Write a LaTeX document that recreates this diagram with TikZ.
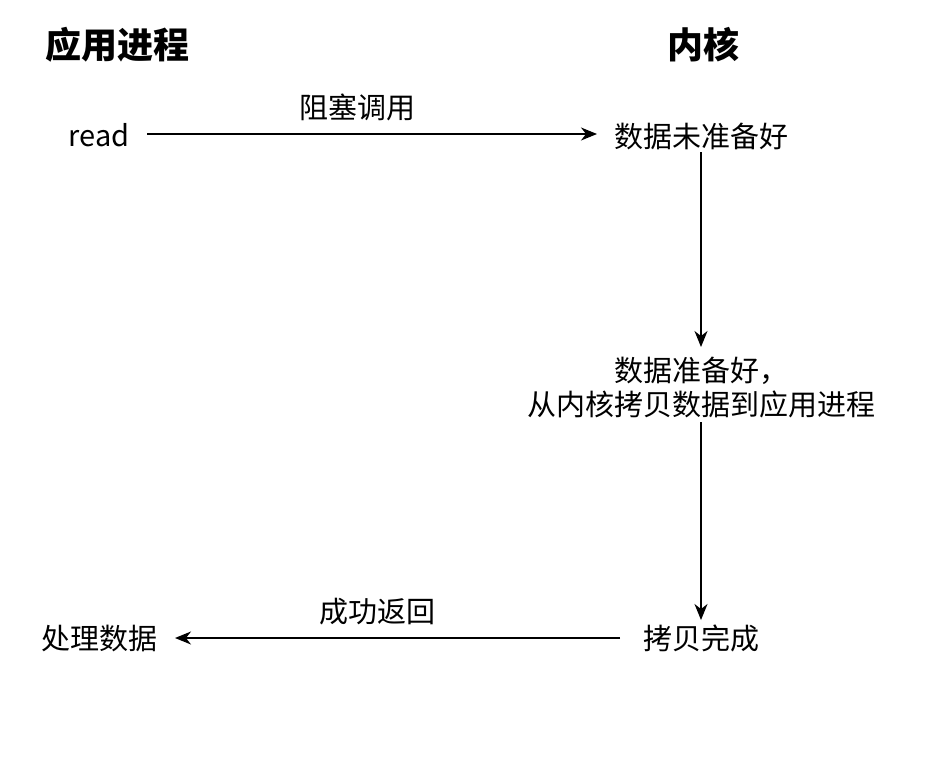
\documentclass[tikz,border=0pt]{standalone}
\usepackage{fontspec}
\setmainfont{Noto Sans CJK SC}
\usetikzlibrary{arrows.meta}
\begin{document}
\begin{tikzpicture}[x=1pt,y=-1pt,
  lbl/.style={inner sep=0pt,font=\fontsize{29}{34}\selectfont,align=center},
  ttl/.style={inner sep=0pt,font=\fontsize{36}{40}\selectfont\bfseries},
  conn/.style={line width=1.4pt,-{Stealth[length=16pt,width=13pt,inset=5pt]}}]
\useasboundingbox (0,0) rectangle (926,766);
\node[ttl] (t1) at (117,45) {应用进程};
\node[ttl] (t2) at (703,45) {内核};
\node[lbl] (read) at (99,135) {read};
\node[lbl] (nr) at (701,136) {数据未准备好};
\node[lbl] (rd) at (701,388) {数据准备好，\\从内核拷贝数据到应用进程};
\node[lbl] (cp) at (701,638) {拷贝完成};
\node[lbl] (pd) at (99,638) {处理数据};
\coordinate (a1) at (147,134);
\coordinate (a2) at (597,134);
\draw[conn] (a1) -- node[lbl,pos=0.467,above=12pt] (l1) {阻塞调用} (a2);
\coordinate (v1) at (701,152);
\coordinate (v2) at (701,347);
\draw[conn] (v1) -- (v2);
\coordinate (v3) at (701,422);
\coordinate (v4) at (701,620);
\draw[conn] (v3) -- (v4);
\coordinate (b1) at (620,638);
\coordinate (b2) at (175,638);
\draw[conn] (b1) -- node[lbl,pos=0.545,above=12pt] (l2) {成功返回} (b2);
\end{tikzpicture}
\end{document}
